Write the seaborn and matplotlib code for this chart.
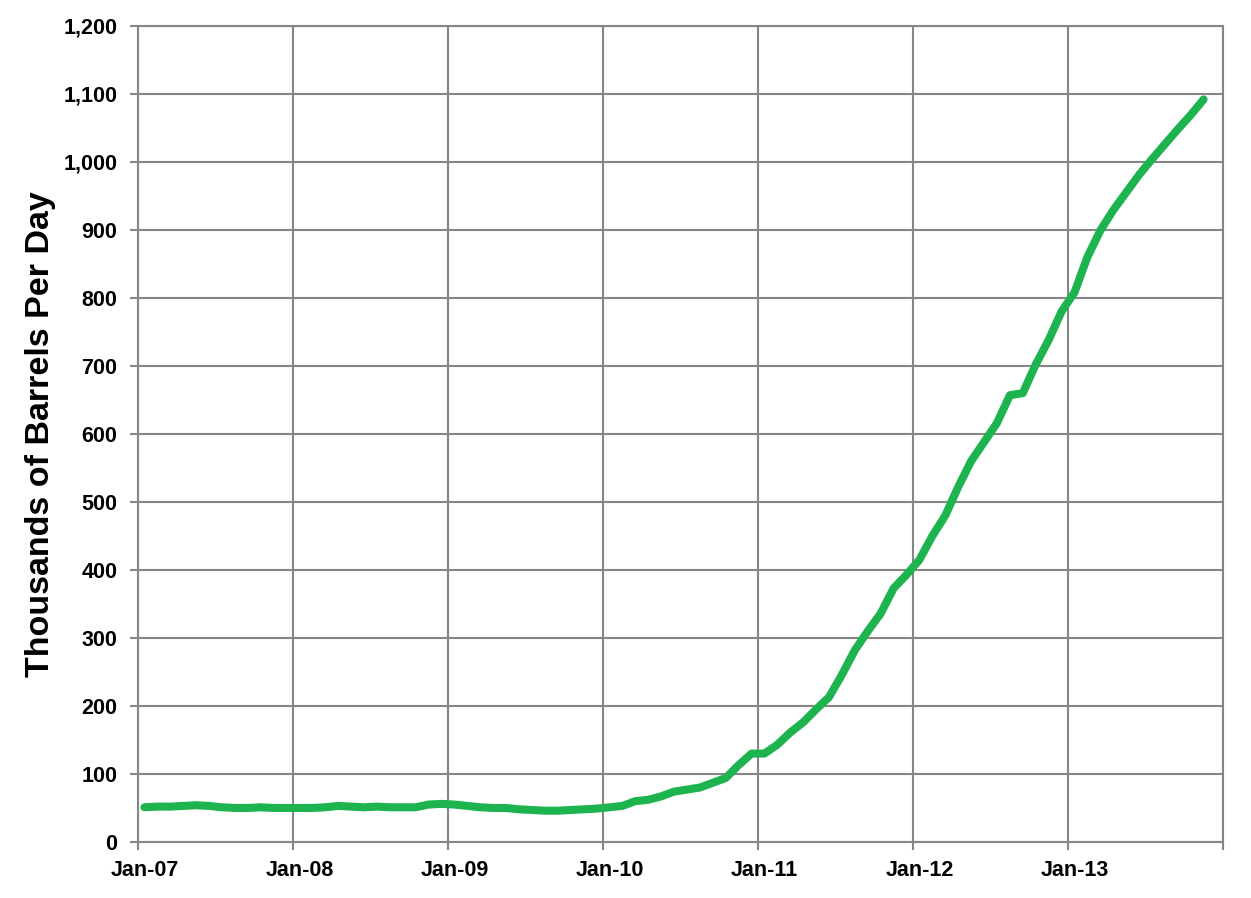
import numpy as np
import pandas as pd
import matplotlib
matplotlib.use("Agg")
import matplotlib.pyplot as plt
import seaborn as sns
from matplotlib.ticker import FuncFormatter

# monthly production, thousands of barrels per day (Jan-07 .. Nov-13)
vals_2007 = [51, 52, 52, 53, 54, 53, 51, 50, 50, 51, 50, 50]
vals_2008 = [50, 50, 51, 53, 52, 51, 52, 51, 51, 51, 55, 56]
vals_2009 = [55, 53, 51, 50, 50, 48, 47, 46, 46, 47, 48, 49]
vals_2010 = [51, 53, 60, 62, 67, 74, 77, 80, 87, 94, 113, 130]
vals_2011 = [130, 143, 161, 176, 195, 213, 246, 282, 310, 336, 373, 393]
vals_2012 = [415, 450, 480, 522, 560, 588, 616, 657, 660, 702, 738, 780]
vals_2013 = [808, 860, 899, 929, 955, 981, 1004, 1026, 1048, 1069, 1092]

tick_labels = ["Jan-07", "Jan-08", "Jan-09", "Jan-10", "Jan-11", "Jan-12", "Jan-13"]
n_months = 84  # category slots on the axis (Jan-07 .. Dec-13)

values = vals_2007 + vals_2008 + vals_2009 + vals_2010 + vals_2011 + vals_2012 + vals_2013
df = pd.DataFrame({"month": np.arange(len(values)), "kbd": values})

sns.set_style("white")
plt.rcParams["font.family"] = ["Liberation Sans", "DejaVu Sans"]
plt.rcParams["font.weight"] = "bold"
plt.rcParams["text.color"] = "black"
plt.rcParams["axes.labelcolor"] = "black"
plt.rcParams["xtick.labelcolor"] = "black"
plt.rcParams["ytick.labelcolor"] = "black"

grid_col = "#868686"

fig = plt.figure(figsize=(12.51, 8.98), dpi=100)
ax = fig.add_axes([0.1103, 0.0624, 0.8673, 0.9087])

sns.lineplot(data=df, x="month", y="kbd", ax=ax, color="#1db34f",
             linewidth=5.8, solid_capstyle="round", solid_joinstyle="round")

ax.set_xlim(-0.5, n_months - 0.5)
ax.set_ylim(0, 1200)

# y axis
ax.set_yticks(range(0, 1201, 100))
ax.yaxis.set_major_formatter(FuncFormatter(lambda v, p: f"{int(v):,}"))
ax.tick_params(axis="y", which="major", direction="out", length=6, width=1.5,
               color=grid_col, labelcolor="black", labelsize=15.5, pad=9, left=True)

# x axis: ticks on year boundaries, labels centred on the January slot
ax.set_xticks(np.arange(-0.5, n_months, 12))
ax.set_xticklabels([])
ax.set_xticks(np.arange(0, n_months - 1, 12), minor=True)
ax.set_xticklabels(tick_labels, minor=True)
ax.tick_params(axis="x", which="major", direction="out", length=6, width=1.5,
               color=grid_col, bottom=True)
ax.tick_params(axis="x", which="minor", length=0, labelcolor="black",
               labelsize=15.5, pad=13)

ax.grid(True, which="major", color=grid_col, linewidth=1.5)
ax.set_axisbelow(True)
for sp in ax.spines.values():
    sp.set_color(grid_col)
    sp.set_linewidth(1.5)

ax.set_xlabel("")
ax.set_ylabel("Thousands of Barrels Per Day", fontsize=24.5, fontweight="bold",
              color="black")
ax.yaxis.set_label_coords(-0.076, 0.5)

fig.savefig("out.png", dpi=100)
